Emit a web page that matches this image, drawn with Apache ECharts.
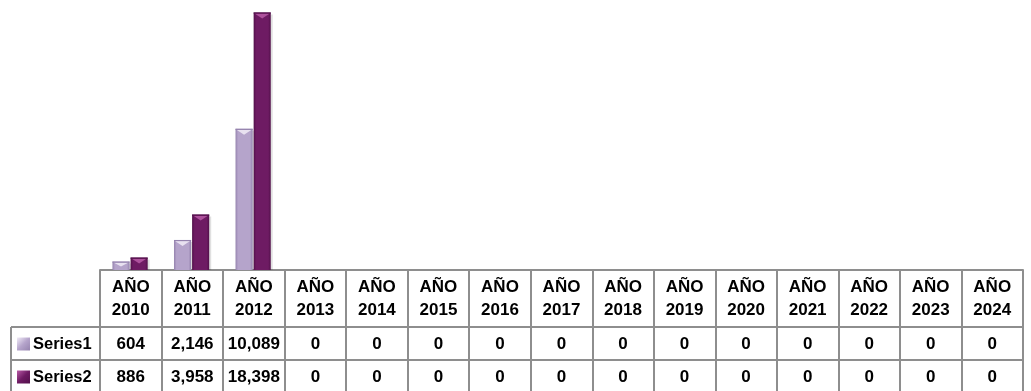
<!DOCTYPE html>
<html>
<head>
<meta charset="utf-8">
<script src="https://cdn.jsdelivr.net/npm/echarts@6/dist/echarts.min.js"></script>
<style>html,body{margin:0;padding:0;background:#fff;}#c{width:1031px;height:391px;}</style>
</head>
<body>
<div id="c"></div>
<script>
const categories = ['AÑO 2010','AÑO 2011','AÑO 2012','AÑO 2013','AÑO 2014','AÑO 2015','AÑO 2016','AÑO 2017','AÑO 2018','AÑO 2019','AÑO 2020','AÑO 2021','AÑO 2022','AÑO 2023','AÑO 2024'];
const seriesNames = ['Series1','Series2'];
const series1 = [604, 2146, 10089, 0, 0, 0, 0, 0, 0, 0, 0, 0, 0, 0, 0];
const series2 = [886, 3958, 18398, 0, 0, 0, 0, 0, 0, 0, 0, 0, 0, 0, 0];

const palette = [
  {main:'#b5a4cb', edge:'#9583ae', hi:'#f1ecf7', legend:'#b5a4cb'},
  {main:'#6e1b63', edge:'#52104a', hi:'#b95aa6', legend:'#6e1b63'}
];
const FONT = 'Liberation Sans, Arial, sans-serif';
const LINE = '#8e8e8e';

const chart = echarts.init(document.getElementById('c'), null, {renderer:'canvas'});

function makeRender(sIdx){
  return function(params, api){
    const cat = api.value(0), v = api.value(1);
    if (!v) return null;
    const top = api.coord([cat, v]);
    const base = api.coord([cat, 0]);
    const band = api.size([1, 0])[0];
    const w = band * 0.278;
    const x0 = sIdx === 0 ? top[0] - w - 1.2 : top[0] - 0.2;
    const yt = top[1];
    const h = base[1] - yt;
    const c = palette[sIdx];
    const d = Math.min(6, h * 0.6);
    return {
      type:'group',
      children:[
        {type:'rect', shape:{x:x0+2, y:yt+2, width:w, height:h-2}, style:{fill:'rgba(0,0,0,0.12)'}},
        {type:'rect', shape:{x:x0, y:yt, width:w, height:h},
          style:{fill:new echarts.graphic.LinearGradient(0,0,1,0,[
            {offset:0, color:c.edge},{offset:0.15, color:c.main},{offset:0.85, color:c.main},{offset:1, color:c.edge}])}},
        {type:'polygon', shape:{points:[[x0+1,yt+1],[x0+w-1,yt+1],[x0+w/2,yt+d]]},
          style:{fill:c.hi, opacity:0.85}},
        {type:'rect', shape:{x:x0, y:yt, width:w, height:1.2}, style:{fill:c.edge}}
      ]
    };
  };
}

const allData = [series1, series2];
chart.setOption({
  animation:false,
  backgroundColor:'#ffffff',
  grid:{left:100, right:8, top:4, bottom:121, containLabel:false},
  xAxis:{
    type:'category', data:categories, boundaryGap:true,
    axisLine:{show:true, lineStyle:{color:LINE, width:2}},
    axisTick:{show:true, interval:0, alignWithLabel:false, length:121, lineStyle:{color:LINE, width:2}},
    axisLabel:{interval:0, margin:6, color:'#000', fontFamily:FONT, fontWeight:'bold', fontSize:17, lineHeight:23,
      formatter:v => v.replace(' ', '\n')},
    splitLine:{show:false}
  },
  yAxis:{type:'value', min:0, max:19000, show:false, splitLine:{show:false}},
  series: seriesNames.map((n, i) => ({
    type:'custom', name:n, renderItem:makeRender(i), encode:{x:0, y:1},
    data: allData[i].map((v, k) => [k, v]), clip:false
  }))
});

// data table (body rows) built from the arrays, columns located through the x axis
const graphics = [];
const rightX = chart.convertToPixel({xAxisIndex:0}, categories[categories.length-1]) + (chart.convertToPixel({xAxisIndex:0}, categories[1]) - chart.convertToPixel({xAxisIndex:0}, categories[0]))/2;
const rowY = [344, 377];
const rowLines = [327, 360, 392];
rowLines.forEach(y => graphics.push({type:'line', shape:{x1:11, y1:y, x2:rightX, y2:y}, style:{stroke:LINE, lineWidth:2}}));
graphics.push({type:'line', shape:{x1:11, y1:327, x2:11, y2:392}, style:{stroke:LINE, lineWidth:2}});
seriesNames.forEach((n, i) => {
  graphics.push({type:'rect', shape:{x:17, y:rowY[i]-6.5, width:13, height:13},
    style:{fill:new echarts.graphic.LinearGradient(0,0,1,1,[{offset:0,color:palette[i].hi},{offset:0.5,color:palette[i].main},{offset:1,color:palette[i].edge}])}});
  graphics.push({type:'text', x:33, y:rowY[i], style:{text:n, fill:'#000', font:'bold 16.5px ' + FONT, verticalAlign:'middle', align:'left'}});
  allData[i].forEach((v, k) => {
    const cx = chart.convertToPixel({xAxisIndex:0}, categories[k]);
    graphics.push({type:'text', x:cx, y:rowY[i], style:{text:v.toLocaleString('en-US'), fill:'#000', font:'bold 17px ' + FONT, align:'center', verticalAlign:'middle'}});
  });
});
chart.setOption({graphic:graphics});
</script>
</body>
</html>
